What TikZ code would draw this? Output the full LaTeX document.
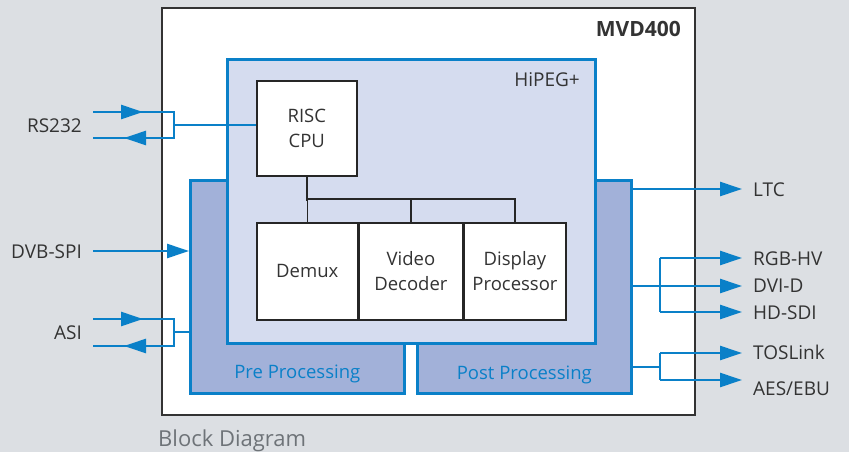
\documentclass[tikz,border=0pt]{standalone}
\usepackage{fontspec}
\setmainfont{Open Sans}
\usetikzlibrary{arrows.meta}
\usetikzlibrary{positioning}

\definecolor{bgGray}{HTML}{DCDFE3}
\definecolor{sigBlue}{HTML}{0A80C8}
\definecolor{procFill}{HTML}{A2B1D9}
\definecolor{hipegFill}{HTML}{D5DCEF}
\definecolor{txtGray}{HTML}{333333}
\definecolor{capGray}{HTML}{6E7378}

\tikzset{
  sig/.style={draw=sigBlue, line width=2.6pt},
  sigarrow/.style={sig, -{Triangle[length=22pt,width=14pt]}},
  wire/.style={draw=black!85, line width=1.6pt},
  blk/.style={wire, fill=white, inner sep=0pt, align=center, text=txtGray,
    font=\fontsize{18.5}{25}\selectfont},
  procbox/.style={sig, fill=procFill, inner sep=0pt, anchor=north west},
  lbl/.style={inner sep=0pt, text=txtGray, font=\fontsize{19}{24}\selectfont},
}

\begin{document}
\begin{tikzpicture}[x=1pt, y=-1pt]
	\fill [bgGray] (0,0) rectangle (849,452);
	\useasboundingbox (0,0) rectangle (849,452);

	% boxes
	\node [draw=black!80, line width=1.8pt, fill=white, inner sep=0pt, anchor=north west,
	  minimum width=533, minimum height=407] (mvd) at (161,7) {};
	\node [procbox, minimum width=214, minimum height=213] (pre) at (189,179) {};
	\node [procbox, minimum width=214, minimum height=213] (post) at (416,179) {};
	\node [procbox, fill=hipegFill, minimum width=368, minimum height=284] (hipeg) at (226,58) {};

	\node [anchor=base east, inner sep=0pt, text=txtGray, font=\fontsize{21}{24}\selectfont\bfseries] (mvdtxt) at (681,37) {MVD400};
	\node [lbl, anchor=base east] (hipegtxt) at (580,87) {HiPEG+};
	\node [lbl, anchor=base, text=sigBlue, font=\fontsize{18.5}{24}\selectfont] (pretxt) at ([yshift=16pt]pre.south) {Pre Processing};
	\node [lbl, anchor=base, text=sigBlue, font=\fontsize{18.5}{24}\selectfont] (posttxt) at ([yshift=15pt]post.south) {Post Processing};

	\node [blk, anchor=north west, minimum width=100, minimum height=95] (risc) at (256,80) {RISC\\CPU};
	\node [blk, anchor=north west, minimum width=101, minimum height=97] (demux) at (256,222) {Demux};
	\node [blk, right=0pt of demux, minimum width=103, minimum height=97] (video) {Video\\Decoder};
	\node [blk, right=0pt of video, minimum width=102, minimum height=97] (display) {Display\\Processor};

	\draw [wire] (risc.south) -- ++(0,24);
	\draw [wire] (demux.north) -- ++(0,-23) -| (display.north);
	\draw [wire] (video.north) -- ++(0,-23);

	% inputs
	\coordinate (rs-tx) at (93,112);
	\coordinate (rs-rx) at (93,138);
	\coordinate (rs-br) at (174,125);
	\coordinate (dvb-in) at (93,251);
	\coordinate (asi-tx) at (93,319);
	\coordinate (asi-rx) at (93,346);
	\coordinate (asi-br) at (174,332);

	\node [lbl, anchor=base east] (rs232) at (82,132) {RS232};
	\node [lbl, anchor=base east] (dvbspi) at (82,258) {DVB-SPI};
	\node [lbl, anchor=base east] (asi) at (82,339) {ASI};

	\draw [sig] (rs-tx) -- (rs-tx -| rs-br) -- (rs-rx -| rs-br) -- (rs-rx);
	\draw [sigarrow] (rs-tx) -- ++(50,0);
	\draw [sigarrow] (rs-rx -| rs-br) -- ++(-50,0);
	\draw [sig] (rs-br) -- (rs-br -| risc.west);

	\draw [sigarrow] (dvb-in) -- (dvb-in -| pre.west);

	\draw [sig] (asi-tx) -- (asi-tx -| asi-br) -- (asi-rx -| asi-br) -- (asi-rx);
	\draw [sigarrow] (asi-tx) -- ++(50,0);
	\draw [sigarrow] (asi-rx -| asi-br) -- ++(-50,0);
	\draw [sig] (asi-br) -- (asi-br -| pre.west);

	% outputs
	\coordinate (ltc-o) at (742,189);
	\coordinate (rgb-o) at (742,258);
	\coordinate (dvi-o) at (742,286);
	\coordinate (hd-o) at (742,312);
	\coordinate (tos-o) at (742,353);
	\coordinate (aes-o) at (742,380);
	\coordinate (vid-br) at (660,286);
	\coordinate (aud-br) at (660,367);

	\node [lbl, anchor=base west] (ltc) at (753,196) {LTC};
	\node [lbl, anchor=base west] (rgbhv) at (753,265) {RGB-HV};
	\node [lbl, anchor=base west] (dvid) at (753,292) {DVI-D};
	\node [lbl, anchor=base west] (hdsdi) at (753,319) {HD-SDI};
	\node [lbl, anchor=base west] (toslink) at (753,359) {TOSLink};
	\node [lbl, anchor=base west] (aesebu) at (753,395) {AES/EBU};

	\draw [sigarrow] (ltc-o -| post.east) -- (ltc-o);
	\draw [sigarrow] (dvi-o -| post.east) -- (dvi-o);
	\draw [sigarrow] (vid-br |- rgb-o) -- (rgb-o);
	\draw [sigarrow] (vid-br |- hd-o) -- (hd-o);
	\draw [sig] (vid-br |- rgb-o) -- (vid-br |- hd-o);
	\draw [sig] (aud-br -| post.east) -- (aud-br);
	\draw [sigarrow] (aud-br |- tos-o) -- (tos-o);
	\draw [sigarrow] (aud-br |- aes-o) -- (aes-o);
	\draw [sig] (aud-br |- tos-o) -- (aud-br |- aes-o);

	\node [anchor=base west, inner sep=0pt, text=capGray, font=\fontsize{22}{26}\selectfont] (caption) at (158,446) {Block Diagram};
\end{tikzpicture}
\end{document}
